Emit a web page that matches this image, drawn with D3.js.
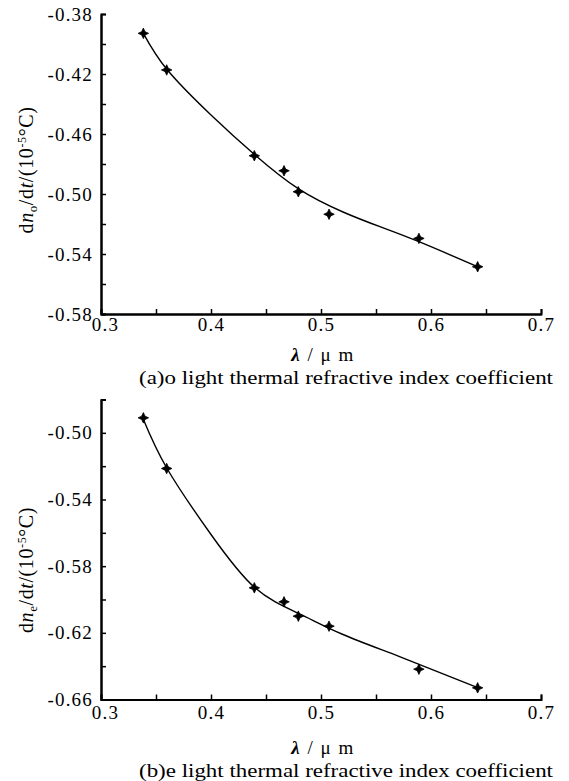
<html>
<head>
<meta charset="utf-8">
<script src="https://d3js.org/d3.v7.min.js"></script>
<style>
  body { margin: 0; background: #fff; }
  svg text, svg tspan { font-family: "Liberation Serif", "DejaVu Serif", serif !important; }
</style>
</head>
<body>
<div id="chart"></div>
<script>
// wavelength (um) of the measured points
var lambda = [0.3385, 0.3597, 0.4394, 0.4664, 0.4794, 0.5073, 0.589, 0.6424];
// (a) o light, measured dn/dt
var dnoMeas = [-0.3929, -0.4173, -0.4745, -0.4845, -0.4985, -0.5135, -0.5296, -0.5485];
// (a) fitted curve
var fitXo = [0.3385, 0.36, 0.40, 0.44, 0.48, 0.52, 0.5536, 0.589, 0.6424];
var fitYo = [-0.3929, -0.4170, -0.4473, -0.4740, -0.4968, -0.5120, -0.5218, -0.5318, -0.5485];
// (b) e light, measured dn/dt
var dneMeas = [-0.4910, -0.5214, -0.5930, -0.6014, -0.6100, -0.6160, -0.6418, -0.6530];
// (b) fitted curve
var fitXe = [0.3379, 0.36, 0.40, 0.44, 0.48, 0.52, 0.572, 0.643];
var fitYe = [-0.4910, -0.5214, -0.5610, -0.5930, -0.6085, -0.6210, -0.6344, -0.6530];

var xTicks = [0.3, 0.4, 0.5, 0.6, 0.7];
var xMinor = [0.35, 0.45, 0.55, 0.65];
var yTicksO = [-0.38, -0.42, -0.46, -0.50, -0.54, -0.58];
var yMinorO = [-0.40, -0.44, -0.48, -0.52, -0.56];
var yTicksE = [-0.50, -0.54, -0.58, -0.62, -0.66];
var yMinorE = [-0.48, -0.52, -0.56, -0.60, -0.64];

var svg = d3.select('#chart').append('svg')
  .attr('width', 569)
  .attr('height', 781);

var x = d3.scaleLinear().domain([0.3, 0.7]).range([101, 541]);

// four pointed star like the printed marker
var star4 = {
  draw: function(ctx, size) {
    var r = Math.sqrt(size) / 2, ri = r * 0.45;
    for (var i = 0; i < 8; i++) {
      var a = i * Math.PI / 4 - Math.PI / 2;
      var rr = i % 2 ? ri : r;
      if (i == 0) ctx.moveTo(rr * Math.cos(a), rr * Math.sin(a));
      else ctx.lineTo(rr * Math.cos(a), rr * Math.sin(a));
    }
    ctx.closePath();
  }
};

function panel(opts) {
  var y = d3.scaleLinear().domain(opts.ydom).range(opts.yrange);
  var g = svg.append('g');
  var y0 = opts.yrange[0];

  // minor ticks first
  g.append('g').attr('transform', 'translate(101,0)')
    .call(d3.axisLeft(y).tickValues(opts.yMinor).tickSize(-5).tickFormat(''));
  g.append('g').attr('transform', 'translate(0,' + y0 + ')')
    .call(d3.axisBottom(x).tickValues(xMinor).tickSize(-5).tickFormat(''));

  g.append('g').attr('transform', 'translate(101,0)')
    .call(d3.axisLeft(y).tickValues(opts.yTicks).tickSize(-5).tickSizeOuter(0)
      .tickPadding(8).tickFormat(function(d) { return d.toFixed(2); }));
  var xa = g.append('g').attr('transform', 'translate(0,' + y0 + ')')
    .call(d3.axisBottom(x).tickValues(xTicks).tickSize(-5).tickSizeOuter(0)
      .tickPadding(opts.pad).tickFormat(function(d) { return d.toFixed(1); }));

  g.selectAll('g').attr('font-size', 19);
  g.selectAll('.domain').attr('stroke', '#000').attr('stroke-width', 2);
  g.selectAll('.tick line').attr('stroke', '#000').attr('stroke-width', 1.5);
  g.selectAll('.tick text').attr('fill', '#000').attr('letter-spacing', 1.2);
  // first x label sits a little right of the corner
  xa.selectAll('.tick text').filter(function(d) { return d == 0.3; }).attr('dx', 4);

  var line = d3.line()
    .x(function(d) { return x(d[0]); })
    .y(function(d) { return y(d[1]); })
    .curve(d3.curveNatural);

  g.append('path')
    .datum(d3.zip(opts.fitX, opts.fitY))
    .attr('d', line)
    .attr('fill', 'none')
    .attr('stroke', '#000')
    .attr('stroke-width', 1.4);

  g.selectAll('.pt')
    .data(d3.zip(lambda, opts.meas))
    .enter().append('path')
    .attr('class', 'pt')
    .attr('transform', function(d) { return 'translate(' + x(d[0]) + ',' + y(d[1]) + ')'; })
    .attr('d', d3.symbol().type(star4).size(110))
    .attr('fill', '#000')
    .attr('stroke', '#000')
    .attr('stroke-width', 0.8);

  // y label
  var lab = g.append('text')
    .attr('transform', 'translate(33,' + opts.ylabY + ') rotate(-90)')
    .attr('text-anchor', 'middle')
    .attr('font-size', 20)
    .attr('letter-spacing', 0.6);
  lab.append('tspan').text('d');
  lab.append('tspan').attr('font-style', 'italic').text('n');
  lab.append('tspan').attr('font-size', 13).attr('dy', 4).text(opts.sub);
  lab.append('tspan').attr('dy', -4).text('/d');
  lab.append('tspan').attr('font-style', 'italic').text('t');
  lab.append('tspan').text('/(10');
  lab.append('tspan').attr('font-size', 12).attr('dy', -7).text('-5');
  lab.append('tspan').attr('dy', 7).text('\u00b0C)');

  // x label
  var xl = g.append('text')
    .attr('x', 323).attr('y', y0 + opts.xlabDy)
    .attr('text-anchor', 'middle')
    .attr('font-size', 19)
    .attr('letter-spacing', 1.5);
  xl.append('tspan').attr('font-style', 'italic').attr('font-weight', 'bold').text('\u03bb');
  xl.append('tspan').text(' / \u03bc m');

  g.append('text')
    .attr('x', 346).attr('y', y0 + opts.capDy)
    .attr('text-anchor', 'middle')
    .attr('font-size', 19)
    .attr('textLength', 414)
    .attr('lengthAdjust', 'spacingAndGlyphs')
    .text(opts.caption);
}

panel({
  ydom: [-0.58, -0.38], yrange: [314, 14],
  yTicks: yTicksO, yMinor: yMinorO,
  meas: dnoMeas, fitX: fitXo, fitY: fitYo,
  sub: 'o', ylabY: 170, pad: 4, xlabDy: 47, capDy: 70,
  caption: '(a)o light thermal refractive index coefficient'
});

panel({
  ydom: [-0.66, -0.48], yrange: [699.5, 399.5],
  yTicks: yTicksE, yMinor: yMinorE,
  meas: dneMeas, fitX: fitXe, fitY: fitYe,
  sub: 'e', ylabY: 570, pad: 6, xlabDy: 54, capDy: 77,
  caption: '(b)e light thermal refractive index coefficient'
});
</script>
</body>
</html>
